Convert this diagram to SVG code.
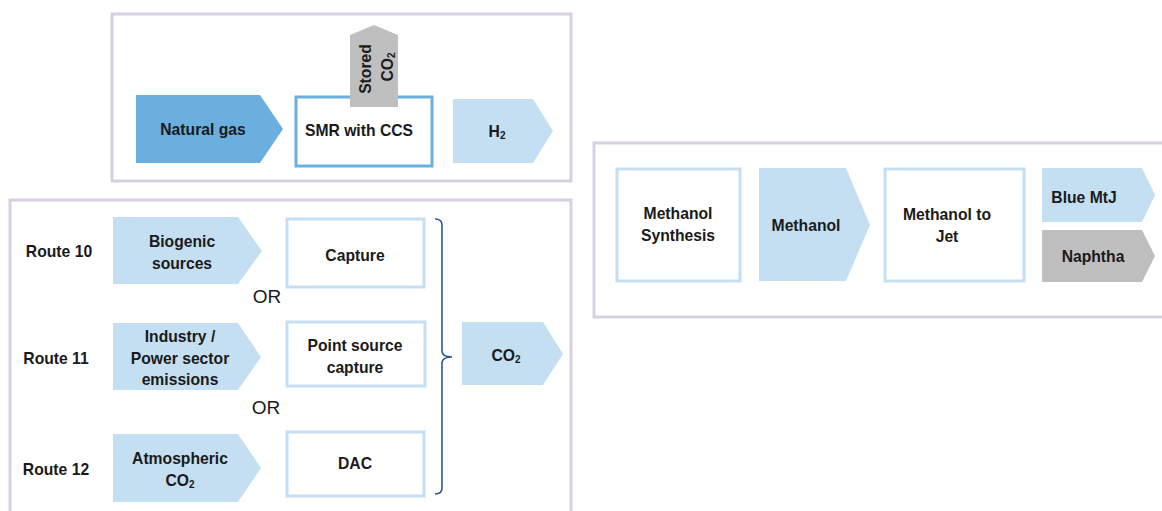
<svg xmlns="http://www.w3.org/2000/svg" width="1162" height="511" viewBox="0 0 1162 511">
<style>
text{font-family:"Liberation Sans",Arial,sans-serif;font-size:15.7px;font-weight:bold;fill:#1a1a1a;text-anchor:middle;dominant-baseline:central}
.frame{fill:#fff;stroke:#d9cfe3;stroke-width:3}
.light{fill:#c5dff2}
.dark{fill:#6aafde}
.gray{fill:#bfbfbf}
.box{fill:#fff;stroke:#c5dff2;stroke-width:3}
.or{font-weight:normal;font-size:19px}
.sub{font-size:10px}
</style>
<rect width="1162" height="511" fill="#fff"/>
<g id="frames">
<rect class="frame" x="112" y="14" width="459" height="167"/>
<rect class="frame" x="10" y="200" width="561" height="320"/>
<rect class="frame" x="594" y="143" width="580" height="174"/>
</g>
<g id="natural-gas"><polygon class="dark" points="136,95 260,95 283,129 260,163 136,163"/><text x="203" y="129">Natural gas</text></g>
<g id="stored-co2"><polygon class="gray" points="350,35 374,25 398,35 398,107 350,107"/>
<text transform="translate(365,69) rotate(-90)">Stored</text>
<text transform="translate(387,67) rotate(-90)">CO<tspan class="sub" dy="4">2</tspan></text></g>
<g id="smr"><rect x="296" y="97" width="136" height="69" fill="#fff" stroke="#6aafde" stroke-width="3"/><text x="359" y="130">SMR with CCS</text></g>
<g id="stored-co2-over"><rect class="gray" x="350" y="95" width="48" height="12"/></g>
<g id="h2"><polygon class="light" points="453,99 533,99 553,131 533,163 453,163"/><text x="497" y="131">H<tspan class="sub" dy="4">2</tspan></text></g>

<g id="route10"><text x="59" y="251">Route 10</text></g>
<g id="route11"><text x="56" y="358">Route 11</text></g>
<g id="route12"><text x="56" y="469">Route 12</text></g>

<g id="biogenic"><polygon class="light" points="113,217 238,217 262,251 238,284 113,284"/><text x="182" y="241">Biogenic</text><text x="182" y="263">sources</text></g>
<g id="industry"><polygon class="light" points="113,323 238,323 261,357 238,390 113,390"/><text x="180" y="336">Industry /</text><text x="180" y="358">Power sector</text><text x="180" y="379">emissions</text></g>
<g id="atmospheric"><polygon class="light" points="113,434 238,434 261,468 238,502 113,502"/><text x="180" y="458">Atmospheric</text><text x="180" y="480">CO<tspan class="sub" dy="4">2</tspan></text></g>

<g id="or1"><text class="or" x="267" y="296">OR</text></g>
<g id="or2"><text class="or" x="266" y="407">OR</text></g>

<g id="capture"><rect class="box" x="287" y="219" width="137" height="68"/><text x="355" y="255">Capture</text></g>
<g id="point-source"><rect class="box" x="287" y="322" width="138" height="64"/><text x="355" y="345">Point source</text><text x="355" y="367">capture</text></g>
<g id="dac"><rect class="box" x="287" y="432" width="137" height="64"/><text x="355" y="463">DAC</text></g>

<g id="connectors"><path d="M435,219 Q442,219 442,225 L442,351 Q442,357 452,357 Q442,357 442,363 L442,488 Q442,494 435,494" fill="none" stroke="#2f5597" stroke-width="1.6"/></g>

<g id="co2"><polygon class="light" points="462,322 543,322 563,354 543,385 462,385"/><text x="506" y="355">CO<tspan class="sub" dy="4">2</tspan></text></g>

<g id="methanol-synthesis"><rect class="box" x="617" y="169" width="123" height="112"/><text x="678" y="213">Methanol</text><text x="678" y="235">Synthesis</text></g>
<g id="methanol"><polygon class="light" points="759,168 846,168 870,225 846,281 759,281"/><text x="806" y="225">Methanol</text></g>
<g id="mtj"><rect class="box" x="885" y="169" width="139" height="112"/><text x="947" y="214">Methanol to</text><text x="947" y="236">Jet</text></g>
<g id="blue-mtj"><polygon class="light" points="1042,168 1142,168 1155,195 1142,222 1042,222"/><text x="1084" y="197">Blue MtJ</text></g>
<g id="naphtha"><polygon class="gray" points="1042,230 1142,230 1155,256 1142,282 1042,282"/><text x="1093" y="256">Naphtha</text></g>
</svg>
